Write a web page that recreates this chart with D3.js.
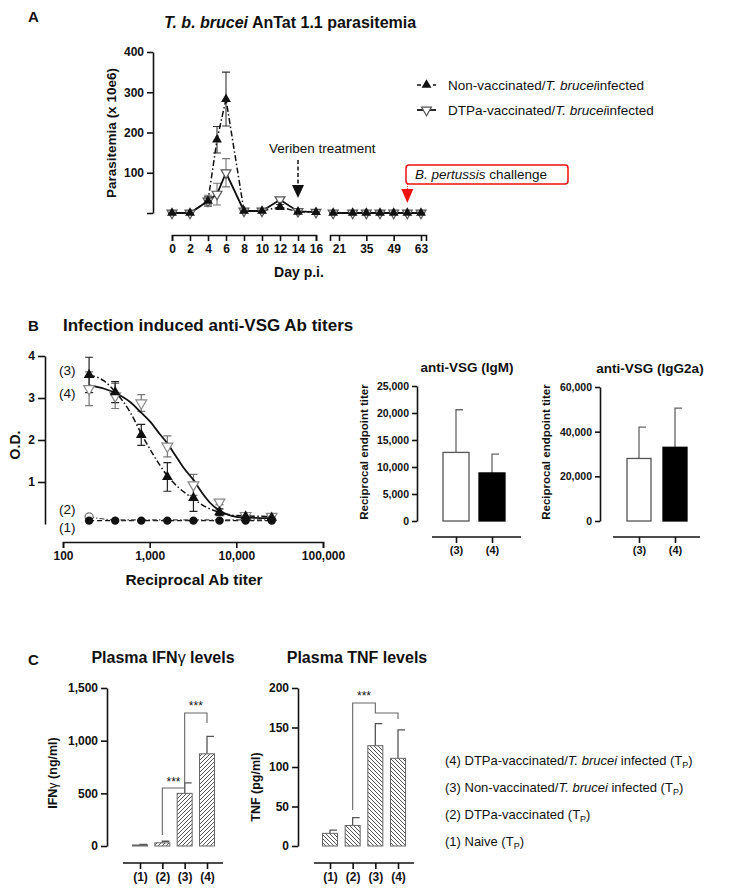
<!DOCTYPE html>
<html><head><meta charset="utf-8">
<script src="https://cdn.jsdelivr.net/npm/d3@7"></script>
<style>body{margin:0;background:#fff}svg{display:block}text{font-family:"Liberation Sans",Arial,sans-serif;fill:#111}</style>
</head><body>
<script>
// ---------- Panel A data ----------
const daysEarly = [0, 2, 4, 5, 6, 8, 10, 12, 14, 16];
const nonVacEarly = [0, 0, 30, 182, 283, 5, 5, 15, 3, 2];
const nonVacEarlyErr = [4, 4, 10, 33, 67, 4, 4, 6, 3, 3];
const dtpaEarly = [0, 0, 30, 47, 100, 5, 5, 33, 4, 2];
const dtpaEarlyErr = [5, 5, 14, 27, 35, 4, 4, 5, 4, 3];
const daysLate = [18, 28, 35, 42, 49, 56, 63];
const nonVacLate = [0, 0, 0, 0, 0, 0, 0];
const dtpaLate = [0, 0, 0, 0, 0, 0, 0];
const lateErr = [4, 4, 4, 4, 4, 4, 4];
const dayTicksEarly = [0, 2, 4, 6, 8, 10, 12, 14, 16];
const dayTicksLate = [21, 35, 49, 63];
const parTicks = [0, 100, 200, 300, 400];
const veribenDay = 14, pertussisDay = 56;

// ---------- Panel B data ----------
const titers = [200, 400, 800, 1600, 3200, 6400, 12800, 25600];
const od3 = [3.55, 3.14, 2.12, 1.12, 0.62, 0.28, 0.18, 0.15];
const od3Err = [0.42, 0.25, 0.25, 0.34, 0.32, 0.08, 0.05, 0.04];
const od4 = [3.22, 3.05, 2.88, 1.85, 0.93, 0.52, 0.2, 0.18];
const od4Err = [0.4, 0.3, 0.2, 0.25, 0.25, 0.06, 0.05, 0.04];
const od2 = [0.17, 0.1, 0.1, 0.1, 0.1, 0.1, 0.1, 0.1];
const od1 = [0.08, 0.08, 0.08, 0.08, 0.08, 0.08, 0.08, 0.08];
const fit4Titer = [200, 300, 400, 600, 800, 1000, 1300, 1600, 2000, 2500, 3200, 4000, 5000, 6400, 8000, 10000, 13000, 25600];
const fit4OD = [3.30, 3.22, 3.12, 2.90, 2.65, 2.45, 2.15, 1.92, 1.62, 1.32, 1.05, 0.75, 0.50, 0.32, 0.22, 0.17, 0.15, 0.14];
const fit3Titer = [200, 300, 400, 600, 800, 1100, 1600, 2200, 3200, 4500, 6400, 10000, 25600];
const fit3OD = [3.55, 3.40, 3.15, 2.65, 2.15, 1.65, 1.15, 0.85, 0.60, 0.40, 0.28, 0.20, 0.18];
const odTicks = [1, 2, 3, 4];
const titerTicks = [100, 1000, 10000, 100000];

const barGroups = ["(3)", "(4)"];
const igmMean = [12700, 8900];
const igmErr = [7900, 3500];
const igmTicks = [0, 5000, 10000, 15000, 20000, 25000];
const igg2aMean = [28000, 33000];
const igg2aErr = [14000, 17500];
const igg2aTicks = [0, 20000, 40000, 60000];

// ---------- Panel C data ----------
const cGroups = ["(1)", "(2)", "(3)", "(4)"];
const ifnMean = [10, 30, 500, 875];
const ifnErr = [5, 15, 100, 165];
const ifnTicks = [0, 500, 1000, 1500];
const tnfMean = [16, 26, 127, 111];
const tnfErr = [4, 10, 28, 36];
const tnfTicks = [0, 50, 100, 150, 200];
const cLegend = [
  ["(4) DTPa-vaccinated/", "T. brucei", " infected (T", "P", ")"],
  ["(3) Non-vaccinated/", "T. brucei", " infected (T", "P", ")"],
  ["(2) DTPa-vaccinated (T", "", "", "P", ")"],
  ["(1) Naive (T", "", "", "P", ")"]
];

const svg = d3.select("body").append("svg").attr("width", 730).attr("height", 896);
const defs = svg.append("defs");
defs.append("pattern").attr("id", "hatchF").attr("patternUnits", "userSpaceOnUse").attr("width", 4).attr("height", 4)
  .append("path").attr("d", "M-1,1 l2,-2 M0,4 l4,-4 M3,5 l2,-2").attr("stroke", "#555").attr("stroke-width", 1);
defs.append("pattern").attr("id", "hatchB").attr("patternUnits", "userSpaceOnUse").attr("width", 4).attr("height", 4)
  .append("path").attr("d", "M-1,3 l2,2 M0,0 l4,4 M3,-1 l2,2").attr("stroke", "#555").attr("stroke-width", 1);

function styleAxis(g, size, weight) {
  g.selectAll("path,line").attr("stroke", "#111").attr("stroke-width", 1.6);
  g.selectAll("text").attr("font-size", size).attr("font-weight", weight || "bold").attr("fill", "#111")
    .attr("font-family", '"Liberation Sans",Arial,sans-serif');
}
function label(x, y, str, size, weight, anchor, rot) {
  const t = svg.append("text").attr("x", x).attr("y", y).attr("font-size", size)
    .attr("font-weight", weight || "normal").attr("text-anchor", anchor || "start").text(str);
  if (rot) t.attr("transform", `rotate(${rot},${x},${y})`);
  return t;
}
const triUp = d3.symbol(d3.symbolTriangle, 42);
const triBig = d3.symbol(d3.symbolTriangle, 50);

// ================= PANEL A =================
label(28, 22, "A", 15, "bold");
{
  const t = label(290, 28, "", 16, "bold", "middle");
  t.append("tspan").attr("font-style", "italic").text("T. b. brucei");
  t.append("tspan").text(" AnTat 1.1 parasitemia");
}
const yA = d3.scaleLinear().domain([0, 400]).range([213, 52]);
const xA1 = d3.scaleLinear().domain([0, 16]).range([172, 316]);
const xA2 = d3.scaleLinear().domain([21, 63]).range([339, 421]);
svg.append("g").attr("transform", "translate(153,0)")
  .call(d3.axisLeft(yA).tickValues(parTicks).tickFormat(d => d === 0 ? "" : d).tickSize(6).tickSizeOuter(0))
  .call(g => styleAxis(g, 12));
svg.append("g").attr("transform", "translate(0,235)")
  .call(d3.axisBottom(xA1).tickValues(dayTicksEarly).tickSize(6).tickSizeOuter(6))
  .call(g => styleAxis(g, 12));
const xA2axis = xA2.copy().domain([xA2.invert(330), xA2.invert(426)]).range([330, 426]);
svg.append("g").attr("transform", "translate(0,235)")
  .call(d3.axisBottom(xA2axis).tickValues(dayTicksLate).tickSize(6).tickSizeOuter(6))
  .call(g => styleAxis(g, 12));
label(116, 133, "Parasitemia (x 10e6)", 13.5, "bold", "middle", -90);
label(299, 277, "Day p.i.", 14, "bold", "middle");

function errA(xs, ys, es, xsc, color) {
  xs.forEach((d, i) => {
    if (!es[i]) return;
    const x = xsc(d), y0 = yA(Math.max(0, ys[i] - es[i])), y1 = yA(ys[i] + es[i]);
    svg.append("path").attr("d", `M${x},${y0}V${y1}M${x - 4},${y1}H${x + 4}M${x - 4},${y0}H${x + 4}`)
      .attr("stroke", color).attr("stroke-width", 1.1).attr("fill", "none");
  });
}
const lineA = (xsc) => d3.line().x(d => xsc(d[0])).y(d => yA(d[1]));
errA(daysEarly, nonVacEarly, nonVacEarlyErr, xA1, "#333");
errA(daysEarly, dtpaEarly, dtpaEarlyErr, xA1, "#777");
errA(daysLate, nonVacLate, lateErr, xA2, "#555");
svg.append("path").attr("d", lineA(xA1)(daysEarly.map((d, i) => [d, nonVacEarly[i]])))
  .attr("fill", "none").attr("stroke", "#111").attr("stroke-width", 1.5).attr("stroke-dasharray", "6,2.5,1.5,2.5");
svg.append("path").attr("d", lineA(xA1)(daysEarly.map((d, i) => [d, dtpaEarly[i]])))
  .attr("fill", "none").attr("stroke", "#111").attr("stroke-width", 1.8);
svg.append("path").attr("d", `M330,${yA(0)}` + lineA(xA2)(daysLate.map((d, i) => [d, dtpaLate[i]])).replace("M", "L"))
  .attr("fill", "none").attr("stroke", "#111").attr("stroke-width", 1.8);
function markersA(xs, ys, xsc, open) {
  xs.forEach((d, i) => {
    const p = svg.append("path").attr("d", triUp())
      .attr("transform", `translate(${xsc(d)},${yA(ys[i])})${open ? " rotate(180)" : ""}`);
    if (open) p.attr("fill", "#fff").attr("stroke", "#555").attr("stroke-width", 1.2);
    else p.attr("fill", "#111");
  });
}
markersA(daysEarly, dtpaEarly, xA1, true);
markersA(daysLate, dtpaLate, xA2, true);
markersA(daysEarly, nonVacEarly, xA1, false);
markersA(daysLate, nonVacLate, xA2, false);
{
  const x = xA1(veribenDay);
  label(269, 153, "Veriben treatment", 13.5);
  svg.append("line").attr("x1", x).attr("x2", x).attr("y1", 160).attr("y2", 186)
    .attr("stroke", "#111").attr("stroke-width", 1.5).attr("stroke-dasharray", "4,2.5");
  svg.append("path").attr("d", `M${x - 6},185L${x + 6},185L${x},198Z`).attr("fill", "#111");
}
{
  const x = xA2(pertussisDay);
  svg.append("rect").attr("x", 406).attr("y", 165).attr("width", 162).attr("height", 19).attr("rx", 3)
    .attr("fill", "#fff").attr("stroke", "#e11").attr("stroke-width", 1.5);
  const t = label(415, 179, "", 13.5);
  t.append("tspan").attr("font-style", "italic").text("B. pertussis");
  t.append("tspan").text(" challenge");
  svg.append("line").attr("x1", x).attr("x2", x).attr("y1", 184).attr("y2", 190)
    .attr("stroke", "#e11").attr("stroke-width", 1).attr("stroke-dasharray", "1,1");
  svg.append("path").attr("d", `M${x - 6},189L${x + 6},189L${x},203Z`).attr("fill", "#e11");
}
{
  svg.append("line").attr("x1", 417).attr("x2", 436).attr("y1", 85).attr("y2", 85)
    .attr("stroke", "#111").attr("stroke-width", 1.5).attr("stroke-dasharray", "4,4");
  svg.append("path").attr("d", triUp()).attr("transform", "translate(426.5,85)").attr("fill", "#111");
  svg.append("line").attr("x1", 417).attr("x2", 436).attr("y1", 110).attr("y2", 110)
    .attr("stroke", "#111").attr("stroke-width", 1.8);
  svg.append("path").attr("d", triUp()).attr("transform", "translate(426.5,110) rotate(180)")
    .attr("fill", "#fff").attr("stroke", "#555").attr("stroke-width", 1.2);
  const t1 = label(448, 90, "Non-vaccinated/", 13.5);
  t1.append("tspan").attr("font-style", "italic").text("T. brucei");
  t1.append("tspan").text("infected");
  const t2 = label(448, 115, "DTPa-vaccinated/", 13.5);
  t2.append("tspan").attr("font-style", "italic").text("T. brucei");
  t2.append("tspan").text("infected");
}

// ================= PANEL B =================
label(28, 331, "B", 15, "bold");
label(63, 331, "Infection induced anti-VSG Ab titers", 17, "bold");
const yB = d3.scaleLinear().domain([0, 4]).range([524, 356]);
const xB = d3.scaleLog().domain([100, 100000]).range([63, 323]);
svg.append("g").attr("transform", "translate(45,0)")
  .call(d3.axisLeft(yB).tickValues(odTicks).tickFormat(d3.format("d")).tickSize(7).tickSizeOuter(0))
  .call(g => styleAxis(g, 12));
svg.append("g").attr("transform", "translate(0,542)")
  .call(d3.axisBottom(xB).tickValues(titerTicks).tickFormat(d3.format(",")).tickSize(6).tickSizeOuter(6))
  .call(g => styleAxis(g, 12));
label(20, 445, "O.D.", 14, "bold", "middle", -90);
label(194, 585, "Reciprocal Ab titer", 15.5, "bold", "middle");
const lineB = d3.line().x(d => xB(d[0])).y(d => yB(d[1])).curve(d3.curveMonotoneX);
svg.append("path").attr("d", lineB(titers.map((d, i) => [d, od1[i]])))
  .attr("fill", "none").attr("stroke", "#111").attr("stroke-width", 1.4).attr("stroke-dasharray", "5,3");
svg.append("path").attr("d", lineB(titers.map((d, i) => [d, od2[i]])))
  .attr("fill", "none").attr("stroke", "#444").attr("stroke-width", 1.2).attr("stroke-dasharray", "5,2,1.5,2");
function errB(ys, es, color) {
  titers.forEach((d, i) => {
    const x = xB(d), y0 = yB(ys[i] - es[i]), y1 = yB(ys[i] + es[i]);
    svg.append("path").attr("d", `M${x},${y0}V${y1}M${x - 4},${y1}H${x + 4}M${x - 4},${y0}H${x + 4}`)
      .attr("stroke", color).attr("stroke-width", 1.2).attr("fill", "none");
  });
}
errB(od4, od4Err, "#777");
errB(od3, od3Err, "#222");
svg.append("path").attr("d", lineB(fit3Titer.map((d, i) => [d, fit3OD[i]])))
  .attr("fill", "none").attr("stroke", "#111").attr("stroke-width", 1.5).attr("stroke-dasharray", "6,2.5,1.5,2.5");
svg.append("path").attr("d", lineB(fit4Titer.map((d, i) => [d, fit4OD[i]])))
  .attr("fill", "none").attr("stroke", "#111").attr("stroke-width", 1.8);
titers.forEach((d, i) => {
  svg.append("path").attr("d", triBig()).attr("transform", `translate(${xB(d)},${yB(od4[i])}) rotate(180)`)
    .attr("fill", "#fff").attr("stroke", "#888").attr("stroke-width", 1.2);
});
titers.forEach((d, i) => {
  svg.append("path").attr("d", triBig()).attr("transform", `translate(${xB(d)},${yB(od3[i])})`).attr("fill", "#111");
});
svg.append("circle").attr("cx", xB(titers[0])).attr("cy", yB(od2[0])).attr("r", 4)
  .attr("fill", "#fff").attr("stroke", "#777").attr("stroke-width", 1.2);
titers.forEach((d, i) => {
  svg.append("circle").attr("cx", xB(d)).attr("cy", yB(od1[i])).attr("r", 4.2).attr("fill", "#111");
});
label(59, 375, "(3)", 13.5);
label(59, 398, "(4)", 13.5);
label(59, 514, "(2)", 13.5);
label(59, 532, "(1)", 13.5);

function barPanel(cfg) {
  const y = d3.scaleLinear().domain(cfg.domain).range([521, cfg.top]);
  const x = d3.scalePoint().domain(barGroups).range(cfg.centers);
  label(cfg.titleX, cfg.titleY, cfg.title, 13.5, "bold", "middle");
  svg.append("g").attr("transform", `translate(${cfg.axisX},0)`)
    .call(d3.axisLeft(y).tickValues(cfg.ticks).tickFormat(d3.format(",")).tickSize(5).tickSizeOuter(0))
    .call(g => styleAxis(g, 10.5));
  label(cfg.axisX - cfg.titleOff, 452, "Reciprocal endpoint titer", 11.5, "bold", "middle", -90);
  const ax = svg.append("g").attr("transform", "translate(0,537)")
    .call(d3.axisBottom(x).tickSize(6)).call(g => styleAxis(g, 11));
  ax.select(".domain").remove();
  ax.append("line").attr("x1", cfg.line[0]).attr("x2", cfg.line[1]).attr("stroke", "#111").attr("stroke-width", 1.6);
  barGroups.forEach((gname, i) => {
    const cx = x(gname), top = y(cfg.mean[i]), et = y(cfg.mean[i] + cfg.err[i]);
    svg.append("path").attr("d", `M${cx},${top}V${et}H${cx + 7}`).attr("stroke", "#666").attr("stroke-width", 1.3).attr("fill", "none");
    svg.append("rect").attr("x", cx - cfg.bw / 2).attr("y", top).attr("width", cfg.bw).attr("height", 521 - top)
      .attr("fill", i === 0 ? "#fff" : "#000").attr("stroke", i === 0 ? "#555" : "#000").attr("stroke-width", 1.3);
  });
}
barPanel({ domain: [0, 25000], top: 386, ticks: igmTicks, centers: [456, 492], line: [432, 521], bw: 26,
  mean: igmMean, err: igmErr, axisX: 417, titleOff: 49, title: "anti-VSG (IgM)", titleX: 467, titleY: 372 });
barPanel({ domain: [0, 60000], top: 387, ticks: igg2aTicks, centers: [639, 675], line: [613, 700], bw: 24,
  mean: igg2aMean, err: igg2aErr, axisX: 600, titleOff: 50, title: "anti-VSG (IgG2a)", titleX: 650, titleY: 373 });

// ================= PANEL C =================
label(28, 665, "C", 15, "bold");
{
  const t = label(163, 663, "Plasma IFN", 16, "bold", "middle");
  t.append("tspan").attr("font-weight", "normal").text("γ");
  t.append("tspan").text(" levels");
}
label(357, 663, "Plasma TNF levels", 16, "bold", "middle");

function cPanel(cfg) {
  const y = d3.scaleLinear().domain(cfg.domain).range([846, 688]);
  const x = d3.scalePoint().domain(cGroups).range(cfg.centers);
  svg.append("g").attr("transform", `translate(${cfg.axisX},0)`)
    .call(d3.axisLeft(y).tickValues(cfg.ticks).tickFormat(d3.format(",")).tickSize(6).tickSizeOuter(0))
    .call(g => styleAxis(g, 12));
  const ax = svg.append("g").attr("transform", "translate(0,863)")
    .call(d3.axisBottom(x).tickSize(6)).call(g => styleAxis(g, 12));
  ax.select(".domain").remove();
  ax.append("line").attr("x1", cfg.line[0]).attr("x2", cfg.line[1]).attr("stroke", "#111").attr("stroke-width", 1.6);
  cGroups.forEach((gname, i) => {
    const cx = x(gname), top = y(cfg.mean[i]), et = y(cfg.mean[i] + cfg.err[i]);
    svg.append("path").attr("d", `M${cx},${top}V${et}H${cx + 7}`).attr("stroke", "#555").attr("stroke-width", 1.3).attr("fill", "none");
    svg.append("rect").attr("x", cx - 7.5).attr("y", top).attr("width", 15).attr("height", 846 - top)
      .attr("fill", `url(#${cfg.hatch})`).attr("stroke", "#666").attr("stroke-width", 1);
  });
  return { x, y };
}
const ifn = cPanel({ domain: [0, 1500], ticks: ifnTicks, centers: [140, 207], line: [123, 223], axisX: 107,
  mean: ifnMean, err: ifnErr, hatch: "hatchF" });
const tnf = cPanel({ domain: [0, 200], ticks: tnfTicks, centers: [330, 398], line: [314, 414], axisX: 298,
  mean: tnfMean, err: tnfErr, hatch: "hatchB" });
{
  const t = label(57, 773, "IFN", 12.5, "bold", "middle", -90);
  t.append("tspan").attr("font-weight", "normal").text("γ");
  t.append("tspan").text(" (ng/ml)");
}
label(260, 787, "TNF (pg/ml)", 12.5, "bold", "middle", -90);

function bracket(d, sx, sy) {
  svg.append("path").attr("d", d).attr("fill", "none").attr("stroke", "#666").attr("stroke-width", 1.1);
  label(sx, sy, "***", 12, "normal", "middle");
}
{
  const x = ifn.x;
  bracket(`M${x("(2)")},835V788H${x("(3)")}V793`, (x("(2)") + x("(3)")) / 2, 786);
  bracket(`M${x("(3)")},788V713H${x("(4)")}V723`, (x("(3)") + x("(4)")) / 2, 710);
  const t = tnf.x;
  const mid = t("(3)");
  bracket(`M${t("(2)")},810V703H${mid}V713H${t("(4)")}V719`, (t("(2)") + mid) / 2, 700);
}

cLegend.forEach((row, i) => {
  const t = label(445, 765 + i * 27, row[0], 13);
  if (row[1]) t.append("tspan").attr("font-style", "italic").text(row[1]);
  if (row[2]) t.append("tspan").text(row[2]);
  t.append("tspan").attr("font-size", 9).attr("dy", 3).text(row[3]);
  t.append("tspan").attr("dy", -3).text(row[4]);
});
</script>
</body></html>
